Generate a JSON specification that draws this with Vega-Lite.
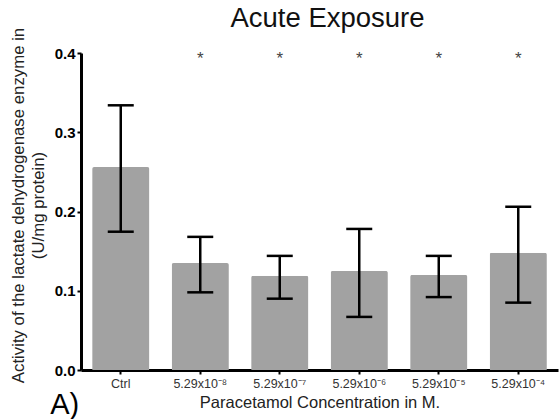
{
  "$schema": "https://vega.github.io/schema/vega-lite/v6.json",
  "autosize": "none",
  "width": 477,
  "height": 317,
  "padding": {"left": 81, "top": 53, "right": 2, "bottom": 49},
  "background": "white",
  "config": {
    "font": "Liberation Sans",
    "view": {"stroke": null},
    "axis": {"grid": false, "domainColor": "black", "tickColor": "black"}
  },
  "title": {
    "text": "Acute Exposure",
    "fontSize": 27.5,
    "fontWeight": "normal",
    "color": "#111",
    "anchor": "middle",
    "frame": "group",
    "baseline": "alphabetic",
    "dx": 8,
    "offset": -27
  },
  "data": {
    "values": [
      {"group": "Ctrl", "mean": 0.256, "lo": 0.1745, "hi": 0.334, "sig": ""},
      {"group": "5.29x10⁻⁸", "mean": 0.135, "lo": 0.098, "hi": 0.168, "sig": "*"},
      {"group": "5.29x10⁻⁷", "mean": 0.119, "lo": 0.090, "hi": 0.144, "sig": "*"},
      {"group": "5.29x10⁻⁶", "mean": 0.125, "lo": 0.067, "hi": 0.178, "sig": "*"},
      {"group": "5.29x10⁻⁵", "mean": 0.120, "lo": 0.092, "hi": 0.144, "sig": "*"},
      {"group": "5.29x10⁻⁴", "mean": 0.148, "lo": 0.085, "hi": 0.206, "sig": "*"}
    ]
  },
  "encoding": {
    "x": {
      "field": "group",
      "type": "nominal",
      "sort": null,
      "scale": {"paddingInner": 0.28, "paddingOuter": 0.14},
      "axis": {
        "title": "Paracetamol Concentration in M.",
        "titleFontSize": 16.5,
        "titleFontWeight": "normal",
        "titleColor": "#222",
        "titlePadding": 5,
        "labelAngle": 0,
        "labelFontSize": 12.5,
        "labelColor": "#333",
        "labelPadding": 3,
        "domainWidth": 3,
        "tickWidth": 2,
        "tickSize": 4
      }
    }
  },
  "layer": [
    {
      "mark": {"type": "bar", "color": "#a2a2a2", "cornerRadiusTopLeft": 2, "cornerRadiusTopRight": 2},
      "encoding": {
        "y": {
          "field": "mean",
          "type": "quantitative",
          "scale": {"domain": [0, 0.4], "nice": false},
          "axis": {
            "title": ["Activity of the lactate dehydrogenase enzyme in", "(U/mg protein)"],
            "titleFontSize": 16.8,
            "titleLineHeight": 20,
            "titleFontWeight": "normal",
            "titleColor": "#222",
            "titlePadding": 7,
            "titleY": 152,
            "values": [0, 0.1, 0.2, 0.3, 0.4],
            "format": ".1f",
            "labelFontSize": 15,
            "labelFontWeight": "bold",
            "labelColor": "black",
            "labelPadding": 2,
            "domainWidth": 3,
            "tickWidth": 2,
            "tickSize": 4
          }
        }
      }
    },
    {
      "mark": {"type": "rule", "color": "black", "strokeWidth": 2.5},
      "encoding": {
        "y": {"field": "lo", "type": "quantitative"},
        "y2": {"field": "hi"}
      }
    },
    {
      "mark": {"type": "tick", "color": "black", "thickness": 2.5, "size": 26, "opacity": 1},
      "encoding": {"y": {"field": "lo", "type": "quantitative"}}
    },
    {
      "mark": {"type": "tick", "color": "black", "thickness": 2.5, "size": 26, "opacity": 1},
      "encoding": {"y": {"field": "hi", "type": "quantitative"}}
    },
    {
      "transform": [{"filter": "datum.sig == '*'"}],
      "mark": {"type": "text", "fontSize": 17, "color": "#444", "baseline": "top", "dy": -2},
      "encoding": {
        "y": {"datum": 0.4, "type": "quantitative"},
        "text": {"field": "sig"}
      }
    },
    {
      "data": {"values": [{"group": "Ctrl", "v": 0, "label": "A)"}]},
      "mark": {"type": "text", "fontSize": 29, "color": "black", "baseline": "alphabetic", "dx": -56, "dy": 44},
      "encoding": {
        "y": {"field": "v", "type": "quantitative"},
        "text": {"field": "label"}
      }
    }
  ]
}
